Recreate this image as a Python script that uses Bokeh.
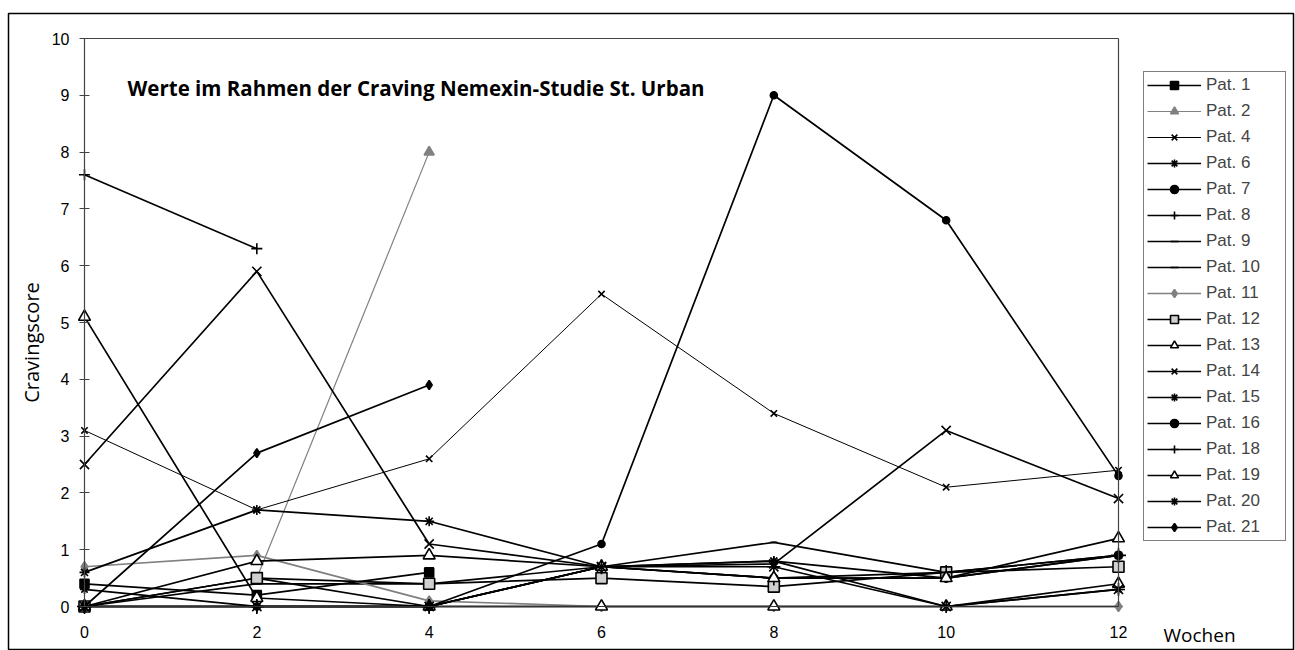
import numpy as np
from bokeh.plotting import figure
from bokeh.models import (Legend, LegendItem, Label, Range1d, LinearAxis,
                          FixedTicker)
from bokeh.embed import file_html
from bokeh.resources import INLINE

nan = np.nan
weeks = [0, 2, 4, 6, 8, 10, 12]
x_ticks = [0, 2, 4, 6, 8, 10, 12]
y_ticks = [0, 1, 2, 3, 4, 5, 6, 7, 8, 9, 10]

pat_1 = [0.4, 0.2, 0.6, nan, nan, nan, nan]
pat_2 = [nan, 0.5, 8.0, nan, nan, nan, nan]
pat_4 = [3.1, 1.7, 2.6, 5.5, 3.4, 2.1, 2.4]
pat_6 = [0.3, 0.0, 0.0, 0.7, 0.8, 0.0, 0.3]
pat_7 = [0.0, 0.5, 0.0, 0.7, 0.5, 0.5, 0.9]
pat_8 = [7.6, 6.3, nan, nan, nan, nan, nan]
pat_9 = [0.0, 0.4, 0.4, 0.7, 1.13, 0.6, 0.9]
pat_10 = [0.0, 0.0, 0.0, 0.0, 0.0, 0.0, 0.0]
pat_11 = [0.7, 0.9, 0.1, 0.0, 0.0, 0.0, 0.0]
pat_12 = [0.0, 0.5, 0.4, 0.5, 0.35, 0.6, 0.7]
pat_13 = [5.1, 0.15, 0.0, 0.0, 0.0, 0.0, 0.4]
pat_14 = [2.5, 5.9, 1.1, 0.7, 0.75, 3.1, 1.9]
pat_15 = [0.6, 1.7, 1.5, 0.7, 0.8, 0.5, 0.9]
pat_16 = [0.0, 0.0, 0.0, 1.1, 9.0, 6.8, 2.3]
pat_18 = [0.0, 0.0, 0.0, 0.7, 0.5, 0.6, 0.9]
pat_19 = [0.0, 0.8, 0.9, 0.7, 0.5, 0.5, 1.2]
pat_20 = [0.0, 0.0, 0.0, 0.7, 0.7, 0.0, 0.3]
pat_21 = [0.0, 2.7, 3.9, nan, nan, nan, nan]

labels = ["Pat. 1", "Pat. 2", "Pat. 4", "Pat. 6", "Pat. 7", "Pat. 8", "Pat. 9",
          "Pat. 10", "Pat. 11", "Pat. 12", "Pat. 13", "Pat. 14", "Pat. 15",
          "Pat. 16", "Pat. 18", "Pat. 19", "Pat. 20", "Pat. 21"]
series = [pat_1, pat_2, pat_4, pat_6, pat_7, pat_8, pat_9, pat_10, pat_11,
          pat_12, pat_13, pat_14, pat_15, pat_16, pat_18, pat_19, pat_20, pat_21]

# (marker, size, fill, line color, line width)
styles = [
    ("square", 9, "black", "black", 1.7),
    ("triangle", 10, "#808080", "#808080", 1.2),
    ("x", 9, None, "black", 1.0),
    ("asterisk", 9, None, "black", 1.7),
    ("circle", 8, "black", "black", 1.7),
    ("cross", 11, None, "black", 1.7),
    ("dash", 7, None, "black", 1.7),
    ("dash", 8, None, "black", 1.7),
    ("diamond", 10, "#808080", "#808080", 1.7),
    ("square", 11, "#d0d0d0", "black", 1.7),
    ("triangle", 12, "white", "black", 1.7),
    ("x", 13, None, "black", 1.7),
    ("asterisk", 10, None, "black", 1.7),
    ("circle", 7, "black", "black", 1.7),
    ("cross", 15, None, "black", 1.7),
    ("triangle", 12, "white", "black", 1.7),
    ("asterisk", 13, None, "black", 1.7),
    ("diamond", 9, "black", "black", 1.7),
]

W, H = 1295, 650
# outer frame (whole chart box) in canvas pixels
ol, orr, ot, ob = 8, 1293, 13, 650
# inner plot box in canvas pixels
il, ir, it, ib = 84, 1118, 38, 606
sx = (ir - il) / 12.0
sy = (ib - it) / 10.0
x0 = -(il - ol) / sx
x1 = 12 + (orr - ir) / sx
y0 = -(ob - ib) / sy
y1 = 10 + (it - ot) / sy

p = figure(width=W, height=H, output_backend="svg", toolbar_location=None,
           x_range=Range1d(x0, x1), y_range=Range1d(y0, y1),
           min_border_left=ol, min_border_right=W - orr,
           min_border_top=ot, min_border_bottom=H - ob)
p.xgrid.visible = False
p.ygrid.visible = False
p.outline_line_color = "black"
p.outline_line_width = 1.5
p.background_fill_color = "white"
p.border_fill_color = "white"

tick_font = "Liberation Sans"
yax = p.yaxis[0]
yax.fixed_location = 0
yax.bounds = (0, 10)
yax.ticker = FixedTicker(ticks=y_ticks)
yax.major_tick_in = 5
yax.major_tick_out = 5
yax.minor_tick_line_color = None
yax.axis_line_color = "#444444"
yax.axis_line_width = 1.2
yax.major_tick_line_color = "#444444"
yax.major_label_text_font = tick_font
yax.major_label_text_font_size = "16px"
yax.major_label_text_color = "black"
yax.major_label_standoff = 10

xax = p.xaxis[0]
xax.fixed_location = 0
xax.bounds = (0, 12)
xax.ticker = FixedTicker(ticks=x_ticks)
xax.major_tick_in = 0
xax.major_tick_out = 0
xax.minor_tick_line_color = None
xax.axis_line_color = "#333333"
xax.axis_line_width = 1.2
xax.major_label_text_font = tick_font
xax.major_label_text_font_size = "16px"
xax.major_label_text_color = "black"
xax.major_label_standoff = 19

# top and right edges of the plot box
top_ax = LinearAxis(fixed_location=10, bounds=(0, 12), ticker=FixedTicker(ticks=[]),
                    major_tick_line_color=None, minor_tick_line_color=None,
                    major_label_text_font_size="0px", axis_line_color="#444444",
                    axis_line_width=1.2)
p.add_layout(top_ax, "above")
right_ax = LinearAxis(fixed_location=12, bounds=(0, 10), ticker=FixedTicker(ticks=[]),
                      major_tick_line_color=None, minor_tick_line_color=None,
                      major_label_text_font_size="0px", axis_line_color="#444444",
                      axis_line_width=1.2)
p.add_layout(right_ax, "right")

items = []
for lab, ys, (mk, sz, fill, lc, lw) in zip(labels, series, styles):
    r_line = p.line(weeks, ys, line_color=lc, line_width=lw)
    r_mark = p.scatter(weeks, ys, marker=mk, size=sz, fill_color=fill,
                       line_color=lc, line_width=1.6)
    items.append(LegendItem(label=lab, renderers=[r_line, r_mark]))

legend = Legend(items=items, location=(1143 - ol, ob - 541),
                label_text_font=tick_font, label_text_font_size="17px",
                label_height=20, glyph_height=20, glyph_width=54,
                label_width=76, spacing=6, padding=3, margin=0,
                label_standoff=5,
                border_line_color="black", border_line_width=1.2,
                background_fill_color="white", background_fill_alpha=1.0)
p.add_layout(legend, "center")

p.add_layout(Label(x=127 - ol, y=ob - 87, x_units="screen", y_units="screen",
                   text="Werte im Rahmen der Craving Nemexin-Studie St. Urban",
                   text_font="Open Sans", text_font_style="bold",
                   text_font_size="20.5px", text_baseline="middle",
                   text_color="black"))
p.add_layout(Label(x=31 - ol, y=ob - 342, x_units="screen", y_units="screen",
                   text="Cravingscore", angle=np.pi / 2,
                   text_font="Open Sans", text_font_size="20px",
                   text_align="center", text_baseline="middle",
                   text_color="black"))
p.add_layout(Label(x=1163 - ol, y=ob - 634, x_units="screen", y_units="screen",
                   text="Wochen", text_font="Open Sans",
                   text_font_size="19px", text_baseline="middle",
                   text_color="black"))

open("out.html", "w").write(file_html(p, INLINE))
